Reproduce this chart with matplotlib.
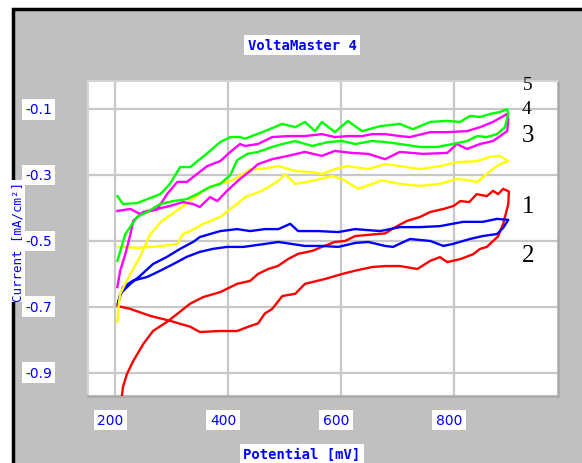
import matplotlib
matplotlib.use("Agg")
import matplotlib.pyplot as plt
import matplotlib.transforms as mtransforms
from matplotlib.patches import Rectangle

# potential (mV) / current density (mA/cm2) for each scan, forward then reverse
red_mv = [204, 227, 262, 297, 333, 350, 386, 416, 439, 453, 465, 478, 496, 519, 536, 572, 602, 625, 655, 678,
          704, 735, 758, 775, 788, 811, 834, 846, 858, 869, 878, 887, 896, 897,
          887, 878, 869, 858, 840, 827, 811, 799, 781, 758, 740, 717, 699, 678, 625, 607, 589, 566, 549, 524,
          506, 488, 471, 453, 439, 416, 386, 356, 333, 310, 292, 267, 250, 232, 221, 214, 212, 209]
red_ma = [-0.697, -0.706, -0.727, -0.742, -0.760, -0.776, -0.773, -0.773, -0.758, -0.750, -0.720, -0.706, -0.667,
          -0.660, -0.630, -0.615, -0.600, -0.590, -0.579, -0.576, -0.576, -0.585, -0.560, -0.549, -0.564, -0.555,
          -0.540, -0.524, -0.518, -0.500, -0.486, -0.448, -0.388, -0.350,
          -0.342, -0.358, -0.348, -0.364, -0.358, -0.382, -0.379, -0.394, -0.403, -0.412, -0.427, -0.439, -0.455,
          -0.477, -0.485, -0.500, -0.503, -0.518, -0.530, -0.539, -0.555, -0.576, -0.585, -0.600, -0.621, -0.630,
          -0.655, -0.670, -0.690, -0.721, -0.745, -0.773, -0.812, -0.864, -0.903, -0.942, -0.970, -1.000]

blue_mv = [205, 214, 232, 257, 280, 303, 327, 350, 373, 398, 427, 465, 489, 536, 566, 595, 625, 648, 678, 692,
           722, 758, 781, 798, 828, 851, 876, 887, 896,
           876, 851, 816, 775, 740, 704, 669, 625, 595, 559, 524, 510, 489, 465, 439, 416, 386, 368, 350, 338,
           315, 292, 267, 244, 227, 209, 205]
blue_ma = [-0.690, -0.640, -0.620, -0.609, -0.590, -0.570, -0.548, -0.533, -0.524, -0.518, -0.518, -0.509, -0.503,
           -0.515, -0.515, -0.518, -0.506, -0.503, -0.515, -0.518, -0.494, -0.500, -0.515, -0.509, -0.494, -0.485,
           -0.479, -0.460, -0.436,
           -0.433, -0.442, -0.442, -0.455, -0.458, -0.458, -0.470, -0.464, -0.473, -0.470, -0.470, -0.448, -0.464,
           -0.464, -0.470, -0.464, -0.470, -0.479, -0.488, -0.503, -0.524, -0.548, -0.570, -0.606, -0.630, -0.660,
           -0.690]

yellow_mv = [204, 206, 209, 227, 244, 262, 283, 313, 333, 356, 381, 404, 427, 439, 460, 489, 519, 549, 566, 589,
             612, 648, 678, 704, 740, 775, 805, 841, 864, 881, 896,
             881, 864, 841, 823, 805, 775, 740, 704, 672, 655, 630, 602, 584, 549, 519, 501, 489, 460, 430, 416,
             386, 356, 333, 320, 310, 297, 267, 240, 215, 205]
yellow_ma = [-0.745, -0.700, -0.660, -0.600, -0.548, -0.480, -0.439, -0.403, -0.379, -0.348, -0.327, -0.318, -0.297,
             -0.282, -0.282, -0.273, -0.288, -0.291, -0.297, -0.282, -0.273, -0.282, -0.267, -0.273, -0.282, -0.273,
             -0.261, -0.258, -0.245, -0.242, -0.258,
             -0.267, -0.288, -0.321, -0.315, -0.312, -0.327, -0.333, -0.327, -0.316, -0.327, -0.342, -0.312, -0.303,
             -0.318, -0.327, -0.297, -0.318, -0.348, -0.367, -0.388, -0.427, -0.448, -0.470, -0.479, -0.509, -0.512,
             -0.518, -0.521, -0.518, -0.518]

magenta_mv = [204, 209, 218, 227, 232, 250, 274, 297, 320, 338, 350, 368, 381, 398, 421, 439, 453, 478, 506, 536,
              566, 589, 619, 648, 678, 704, 745, 788, 805, 823, 846, 869, 894, 896,
              894, 869, 846, 823, 788, 758, 722, 704, 678, 655, 637, 612, 589, 566, 536, 506, 478, 453, 430, 421,
              404, 386, 363, 345, 327, 310, 292, 274, 262, 244, 227, 204]
magenta_ma = [-0.640, -0.590, -0.540, -0.480, -0.439, -0.412, -0.403, -0.394, -0.382, -0.388, -0.397, -0.367, -0.379,
              -0.348, -0.312, -0.288, -0.267, -0.252, -0.242, -0.230, -0.242, -0.227, -0.233, -0.236, -0.252, -0.230,
              -0.236, -0.233, -0.206, -0.221, -0.206, -0.197, -0.167, -0.130,
              -0.115, -0.139, -0.155, -0.167, -0.170, -0.170, -0.185, -0.182, -0.176, -0.176, -0.182, -0.182, -0.185,
              -0.176, -0.182, -0.182, -0.185, -0.206, -0.212, -0.206, -0.230, -0.258, -0.273, -0.297, -0.321, -0.321,
              -0.358, -0.405, -0.409, -0.418, -0.403, -0.409]

green_mv = [204, 211, 218, 239, 257, 280, 303, 327, 345, 368, 386, 404, 416, 434, 453, 478, 496, 519, 549, 577,
            602, 625, 655, 678, 704, 740, 770, 798, 823, 841, 858, 876, 890, 896,
            894, 881, 864, 846, 828, 811, 788, 758, 727, 704, 669, 637, 612, 589, 566, 554, 536, 519, 496, 465,
            430, 421, 404, 386, 368, 350, 333, 315, 297, 280, 257, 239, 214, 204]
green_ma = [-0.560, -0.520, -0.479, -0.427, -0.412, -0.388, -0.379, -0.373, -0.358, -0.336, -0.327, -0.300, -0.255,
            -0.236, -0.230, -0.215, -0.206, -0.197, -0.212, -0.200, -0.197, -0.206, -0.197, -0.200, -0.206, -0.215,
            -0.215, -0.206, -0.197, -0.182, -0.185, -0.176, -0.155, -0.115,
            -0.100, -0.109, -0.115, -0.124, -0.121, -0.139, -0.136, -0.139, -0.161, -0.145, -0.152, -0.167, -0.136,
            -0.170, -0.139, -0.167, -0.139, -0.155, -0.145, -0.167, -0.190, -0.185, -0.185, -0.200, -0.227, -0.252,
            -0.276, -0.276, -0.327, -0.358, -0.373, -0.385, -0.388, -0.364]

x_ticks = [200, 400, 600, 800]
y_ticks = [-0.1, -0.3, -0.5, -0.7, -0.9]

# curve numbers written beside the right end of the scans: (text, x px, y px, size)
curve_tags = [("5", 528, 86, 14), ("4", 527, 110, 14), ("3", 528, 136, 18),
              ("1", 528, 207, 18), ("2", 528, 256, 18)]

W, H = 582, 464
BLUE = "#0000FF"
mono = "DejaVu Sans Mono"

fig = plt.figure(figsize=(W / 100, H / 100), dpi=100)
fig.patch.set_facecolor("white")

# grey window with a black border
fig.patches.append(Rectangle((13 / W, -0.05), 1.1, 1 - 10 / H + 0.05, transform=fig.transFigure,
                             facecolor="#C0C0C0", edgecolor="black", linewidth=2.5, zorder=-5))

ax = fig.add_axes([88 / W, 1 - 397 / H, (558 - 88) / W, (397 - 82) / H])
ax.set_zorder(2)
ax.set_facecolor("white")
ax.set_xlim(152, 984)
ax.set_ylim(-0.97, -0.015)

for mv, ma, col in [(red_mv, red_ma, "#FF0000"), (blue_mv, blue_ma, "#0000FF"),
                    (yellow_mv, yellow_ma, "#FFFF00"), (magenta_mv, magenta_ma, "#FF00FF"),
                    (green_mv, green_ma, "#00FF00")]:
    ax.plot(mv, ma, color=col, linewidth=1.7, zorder=3)

ax.set_xticks(x_ticks)
ax.set_yticks(y_ticks)
ax.tick_params(length=0, labelbottom=False, labelleft=False)
ax.grid(True, color="#C8C8C8", linewidth=1.6, zorder=1)
ax.set_axisbelow(True)
for side in ["left", "top"]:
    ax.spines[side].set_color("#D4D4D4")
    ax.spines[side].set_linewidth(1.5)
for side in ["right", "bottom"]:
    ax.spines[side].set_color("#A8A8A8")
    ax.spines[side].set_linewidth(1.8)

box = dict(facecolor="white", edgecolor="none", pad=2.5)

fig.text(18 / W, 1 - 242 / H, "Current [mA/cm²]", rotation=90, ha="center", va="center",
         color=BLUE, fontsize=9, family=mono, zorder=6,
         bbox=dict(facecolor="white", edgecolor="none", pad=0.5))

ytrans = mtransforms.blended_transform_factory(fig.transFigure, ax.transData)
for v in y_ticks:
    fig.text(52 / W, v, f"{v:.1f}", transform=ytrans, ha="right", va="center",
             color=BLUE, fontsize=10, family="DejaVu Sans", bbox=box, zorder=5)

xtrans = mtransforms.offset_copy(mtransforms.blended_transform_factory(ax.transData, fig.transFigure),
                                 fig=fig, x=-5, units="dots")
for v in x_ticks:
    fig.text(v, 1 - 421 / H, str(v), transform=xtrans, ha="center", va="center",
             color=BLUE, fontsize=10, family="DejaVu Sans", bbox=box)

fig.text(302 / W, 1 - 455 / H, "Potential [mV]", ha="center", va="center",
         color=BLUE, fontsize=10, family=mono, fontweight="bold", bbox=box)
fig.text(302 / W, 1 - 46 / H, "VoltaMaster 4", ha="center", va="center",
         color=BLUE, fontsize=10, family=mono, fontweight="bold", bbox=box)

for tag, px, py, size in curve_tags:
    fig.text(px / W, 1 - py / H, tag, ha="center", va="center", fontsize=size,
             family="Liberation Serif", color="black", zorder=6)

fig.savefig("out.png", dpi=100)
